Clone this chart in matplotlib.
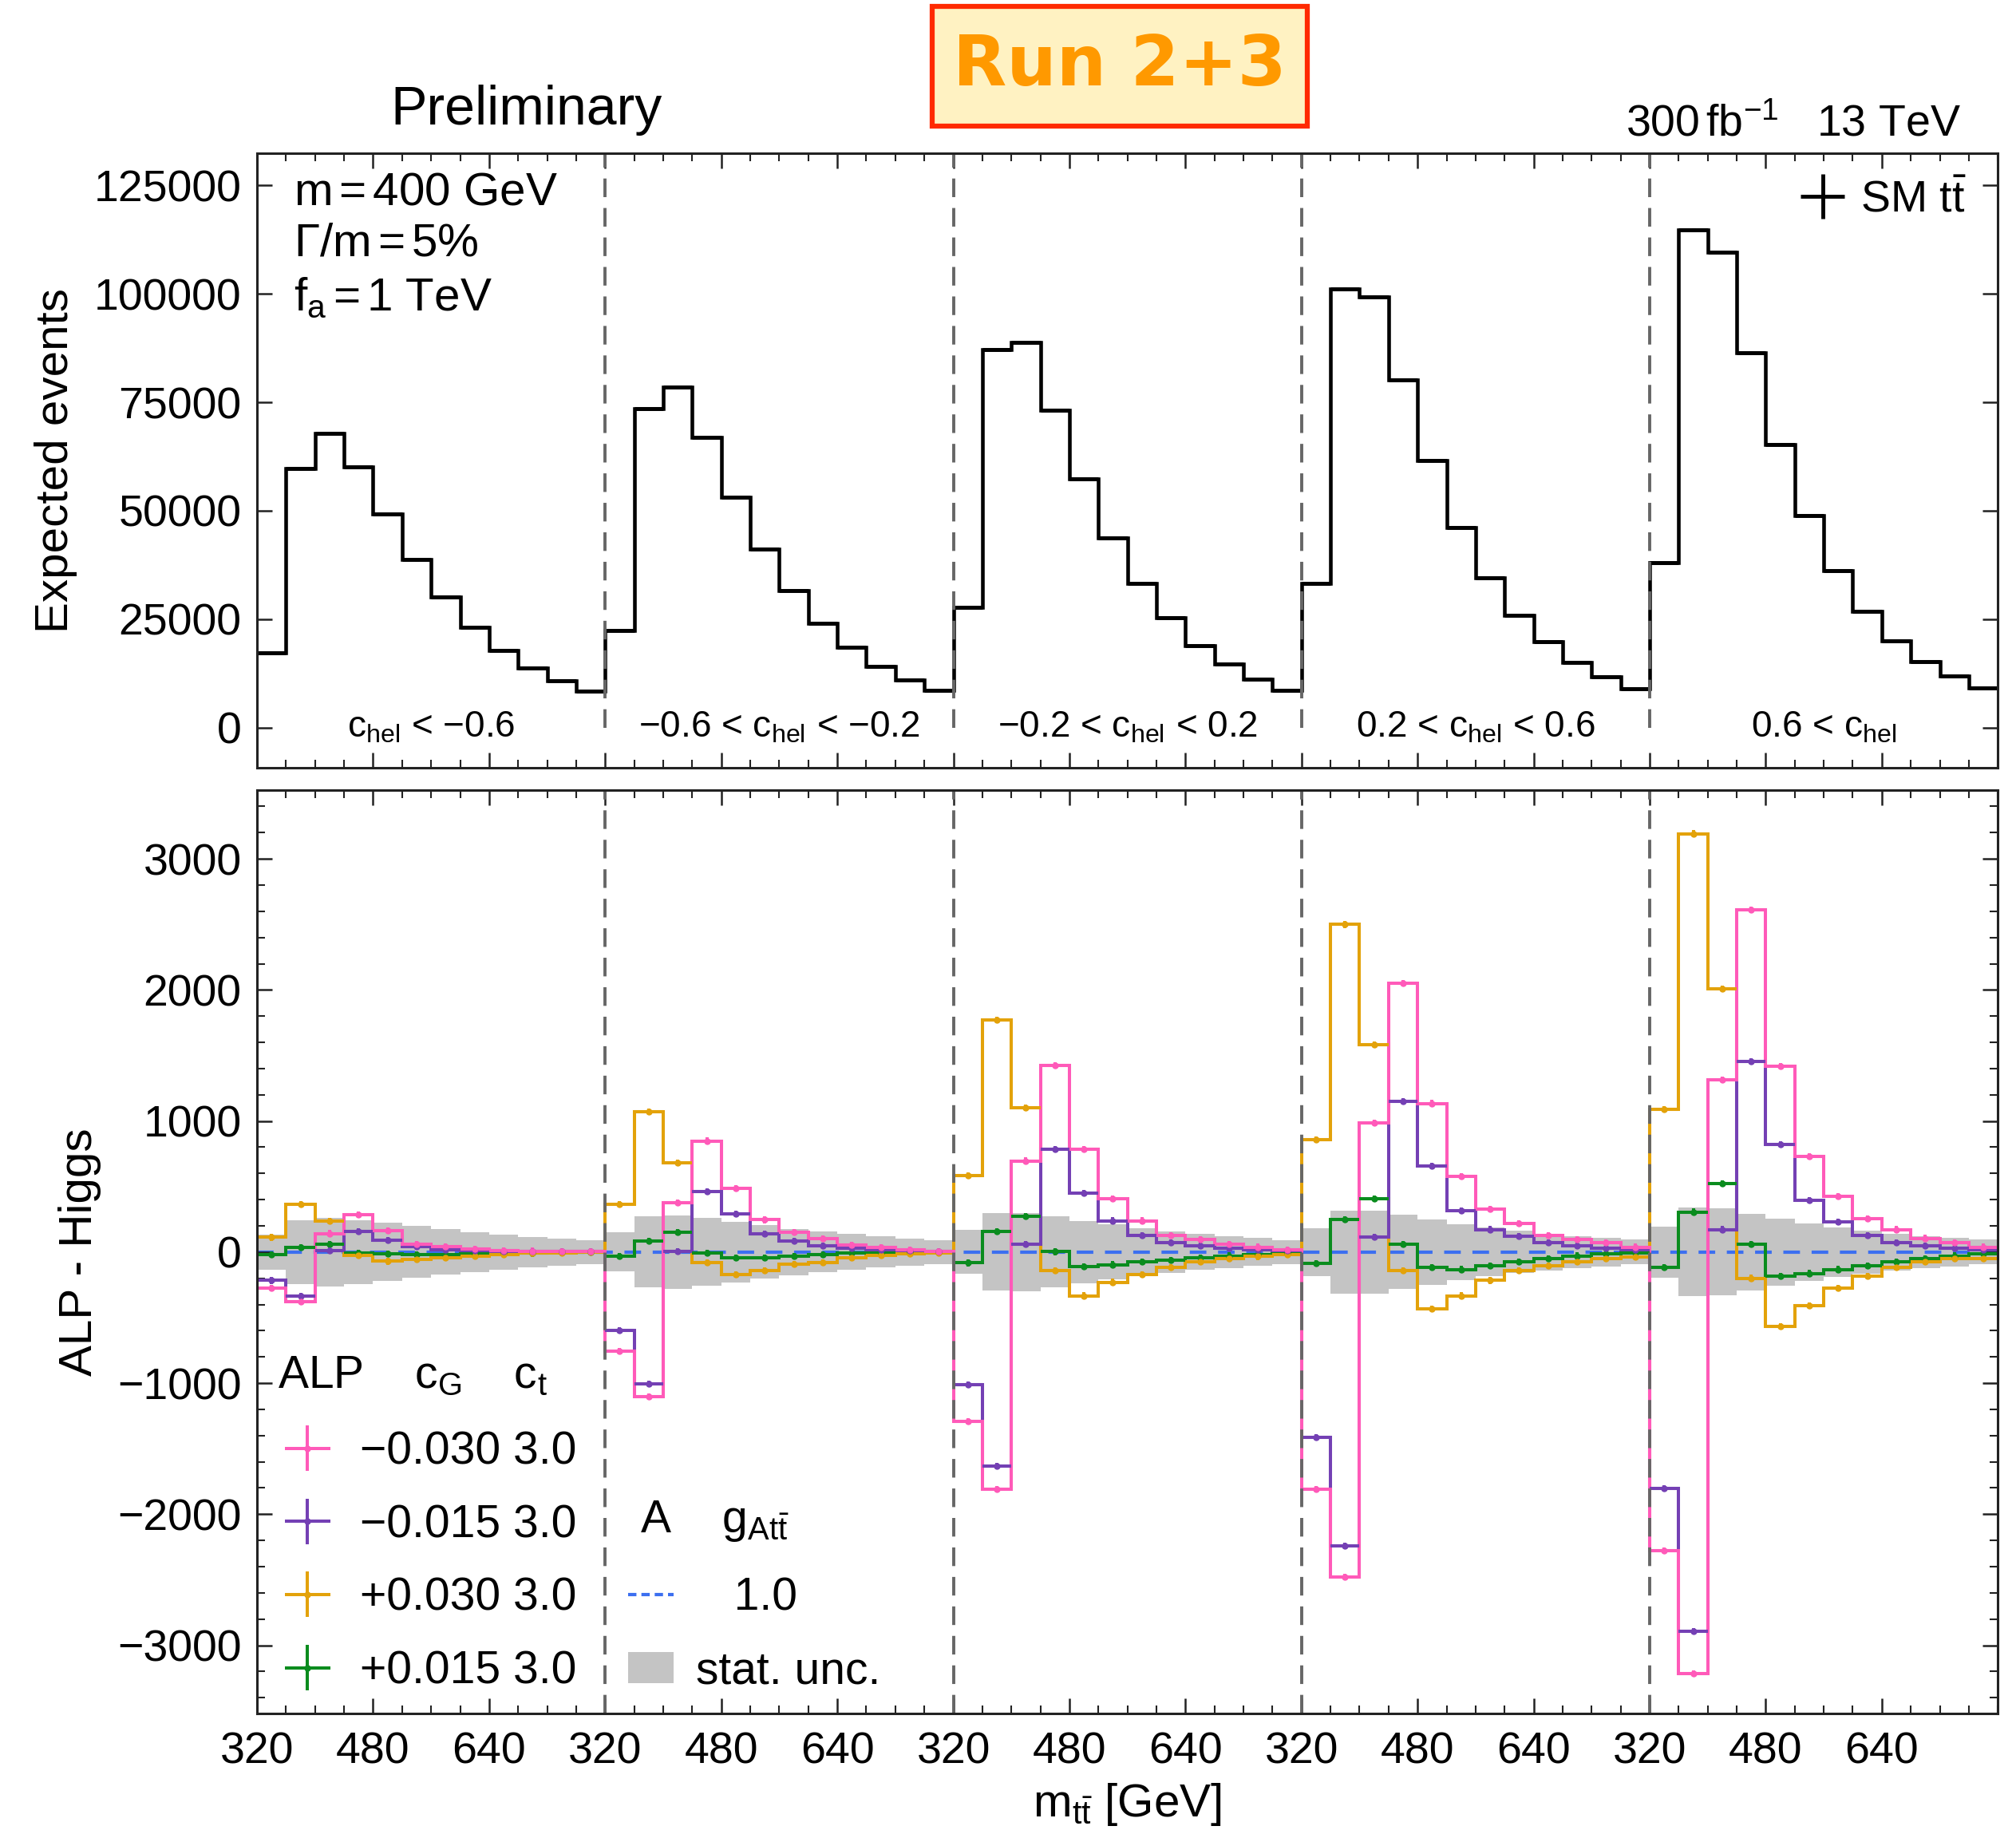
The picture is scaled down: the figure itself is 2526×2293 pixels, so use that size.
import numpy as np
import matplotlib
matplotlib.use("Agg")
import matplotlib.pyplot as plt
from matplotlib.patches import Rectangle, Patch
from matplotlib.lines import Line2D
from matplotlib.ticker import MultipleLocator

# --- Datos (5 bloques de c_hel x 12 bins de 40 GeV) ---
block_labels = [r"c$_\mathrm{hel}$ < −0.6",
                r"−0.6 < c$_\mathrm{hel}$ < −0.2",
                r"−0.2 < c$_\mathrm{hel}$ < 0.2",
                r"0.2 < c$_\mathrm{hel}$ < 0.6",
                r"0.6 < c$_\mathrm{hel}$"]
mtt_ticks = [320, 480, 640]

# SM ttbar, eventos esperados
sm_tt = [
    [17300, 59700, 67900, 60200, 49200, 38700, 30200, 23100, 17800, 13800, 10800, 8400],
    [22500, 73500, 78500, 67000, 53200, 41100, 31600, 24100, 18500, 14200, 11000, 8600],
    [27800, 87100, 88800, 73200, 57300, 43700, 33200, 25300, 18900, 14700, 11200, 8600],
    [33200, 101100, 99300, 80100, 61500, 46100, 34600, 25900, 19900, 15000, 11700, 8900],
    [38100, 114700, 109600, 86400, 65300, 48900, 36200, 26900, 20100, 15200, 11900, 9100],
]

# banda de incertidumbre estadistica (semi-anchura)
stat_unc = [
    [132, 244, 260, 245, 222, 197, 174, 152, 133, 117, 104, 92],
    [150, 271, 280, 259, 231, 203, 178, 155, 136, 119, 105, 93],
    [167, 295, 298, 271, 239, 209, 182, 159, 137, 121, 106, 93],
    [182, 318, 315, 283, 248, 215, 186, 161, 141, 122, 108, 94],
    [195, 339, 331, 294, 256, 221, 190, 164, 142, 123, 109, 95],
]

# ALP - Higgs
alp_m030 = [
    [-274, -376, 142, 285, 163, 60, 40, 22, 12, 8, 5, 3],
    [-754, -1104, 378, 848, 487, 246, 149, 101, 53, 34, 17, 5],
    [-1291, -1810, 696, 1425, 785, 409, 239, 128, 96, 60, 38, 16],
    [-1810, -2481, 987, 2051, 1134, 575, 329, 217, 128, 96, 69, 38],
    [-2280, -3215, 1313, 2610, 1416, 731, 427, 253, 172, 105, 74, 38],
]
alp_m015 = [
    [-217, -335, 10, 157, 91, 41, 20, 10, 5, 4, 3, 2],
    [-598, -1007, 5, 463, 289, 137, 82, 48, 29, 17, 10, 5],
    [-1013, -1631, 60, 785, 450, 239, 128, 74, 47, 29, 16, 10],
    [-1416, -2244, 114, 1148, 655, 315, 172, 119, 74, 47, 29, 16],
    [-1805, -2893, 172, 1456, 821, 396, 230, 128, 74, 47, 29, 16],
]
alp_p030 = [
    [112, 366, 234, -26, -71, -57, -45, -30, -20, -10, -5, -3],
    [366, 1070, 680, -80, -171, -140, -92, -80, -43, -27, -14, -7],
    [584, 1770, 1103, -141, -333, -230, -172, -119, -74, -51, -34, -20],
    [857, 2499, 1582, -141, -432, -333, -217, -141, -105, -74, -51, -38],
    [1089, 3192, 2007, -199, -566, -409, -275, -186, -119, -74, -51, -51],
]
alp_p015 = [
    [-20, 35, 61, -10, -14, -20, -20, -15, -10, -6, -4, -2],
    [-31, 82, 149, -7, -43, -43, -31, -19, -7, -5, -3, -2],
    [-83, 159, 275, 2, -110, -96, -74, -60, -43, -29, -20, -7],
    [-87, 248, 405, 60, -119, -132, -105, -74, -51, -29, -16, -7],
    [-119, 306, 521, 60, -186, -163, -132, -105, -74, -51, -29, -16],
]
# pseudoescalar A (g = 1.0) - Higgs
a_g10 = [[0] * 12 for _ in range(5)]
alp_err = 25  # barras de error de las curvas ALP

alp_series = [
    (alp_m030, "#ff5ab9", "−0.030 3.0"),
    (alp_m015, "#7440b4", "−0.015 3.0"),
    (alp_p030, "#e3a20a", "+0.030 3.0"),
    (alp_p015, "#0a8c1e", "+0.015 3.0"),
]

# --- Estilo general ---
plt.rcParams["font.family"] = ["Liberation Sans", "DejaVu Sans"]
plt.rcParams["mathtext.fontset"] = "custom"
plt.rcParams["mathtext.rm"] = "Liberation Sans"
plt.rcParams["mathtext.it"] = "Liberation Sans:italic"
plt.rcParams["mathtext.bf"] = "Liberation Sans:bold"
plt.rcParams["axes.linewidth"] = 2.2
plt.rcParams["axes.edgecolor"] = "#222222"

n_blocks = len(sm_tt)
n_bins = len(sm_tt[0])
edges = 320 + 40 * np.arange(n_blocks * n_bins + 1)
centers = 0.5 * (edges[:-1] + edges[1:])
block_edges = [320 + 480 * i for i in range(1, n_blocks)]
block_centers = [560 + 480 * i for i in range(n_blocks)]

fig = plt.figure(figsize=(25.26, 22.93), dpi=100)
ax1 = fig.add_axes([0.1275, 0.5805, 0.8635, 0.3358])
ax2 = fig.add_axes([0.1275, 0.0637, 0.8635, 0.5046], sharex=ax1)


def style_axis(ax):
    ax.tick_params(which="both", direction="in", top=True, right=True,
                   labelsize=40, pad=14, colors="#222222", labelcolor="black")
    ax.tick_params(which="major", length=14, width=1.8)
    ax.tick_params(which="minor", length=7, width=1.5)
    ax.xaxis.set_minor_locator(MultipleLocator(40))


# --- Panel superior: SM ttbar ---
sm_vals = np.concatenate(sm_tt)
sm_err = np.concatenate(stat_unc)
ax1.stairs(sm_vals, edges, color="black", lw=3.3, baseline=None)
sm_handle = ax1.errorbar(centers, sm_vals, xerr=20, yerr=sm_err, fmt="none",
                         ecolor="black", elinewidth=3.5)
ax1.set_ylim(-9200, 132400)
ax1.set_yticks([0, 25000, 50000, 75000, 100000, 125000])
ax1.vlines(block_edges, 0, 132400, colors="#666666", lw=2.8,
           linestyles=(0, (6, 3.5)))
for xc, lab in zip(block_centers, block_labels):
    ax1.text(xc, 0, lab, fontsize=33, ha="center", va="center")

ax1.text(0.021, 0.935, r"m$\,$=$\,$400 GeV", transform=ax1.transAxes,
         fontsize=42, va="center")
ax1.text(0.021, 0.852, r"Γ/m$\,$=$\,$5%", transform=ax1.transAxes,
         fontsize=42, va="center")
ax1.text(0.021, 0.764, r"f$_\mathrm{a}$$\,$=$\,$1 TeV", transform=ax1.transAxes,
         fontsize=42, va="center")
ax1.legend([sm_handle], [r"SM t$\bar{\mathrm{t}}$"], loc="upper right",
           bbox_to_anchor=(0.992, 0.985), frameon=False, fontsize=40,
           handlelength=0.9, handletextpad=0.4, borderaxespad=0)
ax1.set_ylabel("Expected events", fontsize=42)
ax1.yaxis.set_label_coords(-0.103, 0.5)
style_axis(ax1)
ax1.tick_params(labelbottom=False)

# --- Panel inferior: ALP - Higgs ---
band = np.concatenate(stat_unc)
band_patch = ax2.stairs(band, edges, baseline=-band, fill=True,
                        color="#c4c4c4", lw=0)
a_line = ax2.stairs(np.concatenate(a_g10), edges, baseline=None,
                    color="#3c6ff0", lw=3.0, linestyle=(0, (5, 3.5)))

alp_handles = []
for vals, col, lab in alp_series[::-1]:
    v = np.concatenate(vals)
    ax2.stairs(v, edges, baseline=None, color=col, lw=2.9)
    h = ax2.errorbar(centers, v, xerr=20, yerr=alp_err, fmt="o", ms=5,
                     color=col, elinewidth=2.9, capsize=0, label=lab)
    alp_handles.append(h)
alp_handles = alp_handles[::-1]

ax2.vlines(block_edges, -3520, 3525, colors="#666666", lw=2.8,
           linestyles=(0, (6, 3.5)))
ax2.set_ylim(-3520, 3525)
ax2.set_yticks([-3000, -2000, -1000, 0, 1000, 2000, 3000])
ax2.yaxis.set_minor_locator(MultipleLocator(200))
ax2.set_xlim(edges[0], edges[-1])

major_x = [320 + 160 * j for j in range(3 * n_blocks)]
ax2.set_xticks(major_x, [str(v) for v in mtt_ticks * n_blocks])
ax2.set_xlabel(r"m$_{\mathrm{t\bar{t}}}$ [GeV]", fontsize=42, labelpad=8)
ax2.set_ylabel("ALP - Higgs", fontsize=42)
ax2.yaxis.set_label_coords(-0.0895, 0.5)
style_axis(ax2)
ax2.tick_params(axis="x", pad=16)

leg1 = ax2.legend(alp_handles, [s[2] for s in alp_series], loc="lower left",
                  bbox_to_anchor=(0.012, 0.022), frameon=False, fontsize=41,
                  title=r"ALP    c$_\mathrm{G}$    c$_\mathrm{t}$",
                  title_fontsize=41, alignment="left", handlelength=1.3,
                  handletextpad=0.5, labelspacing=0.66, borderaxespad=0,
                  borderpad=0)
leg1._legend_box.sep = 30
ax2.add_artist(leg1)
a_handle = Line2D([], [], color="#3c6ff0", lw=3.0, linestyle=(0, (2.5, 1.5)))
unc_handle = Patch(facecolor="#c4c4c4", edgecolor="none")
leg2 = ax2.legend([a_handle, unc_handle], ["   1.0", "stat. unc."],
                  loc="lower left", bbox_to_anchor=(0.213, 0.022),
                  frameon=False, fontsize=41,
                  title=r" A    g$_{\mathrm{At\bar{t}}}$", title_fontsize=41,
                  alignment="left", handlelength=1.0, handletextpad=0.5,
                  labelspacing=0.66, borderaxespad=0, borderpad=0)
leg2._legend_box.sep = 30

# --- Cabecera ---
fig.text(0.261, 0.932, "Preliminary", fontsize=49, ha="center", va="baseline")
fig.text(0.9727, 0.926, r"300$\,$fb$^{-1}$   13 TeV", fontsize=40,
         ha="right", va="baseline")
fig.patches.append(Rectangle((0.4624, 0.9311), 0.1861, 0.0654,
                             transform=fig.transFigure, facecolor="#fff2c2",
                             edgecolor="#ff2a00", lw=4.5))
fig.text(0.5555, 0.9638, "Run 2+3", fontsize=63, fontweight="bold",
         family="DejaVu Sans", color="#ff9900", ha="center", va="center")

fig.savefig("out.png", dpi=100)
